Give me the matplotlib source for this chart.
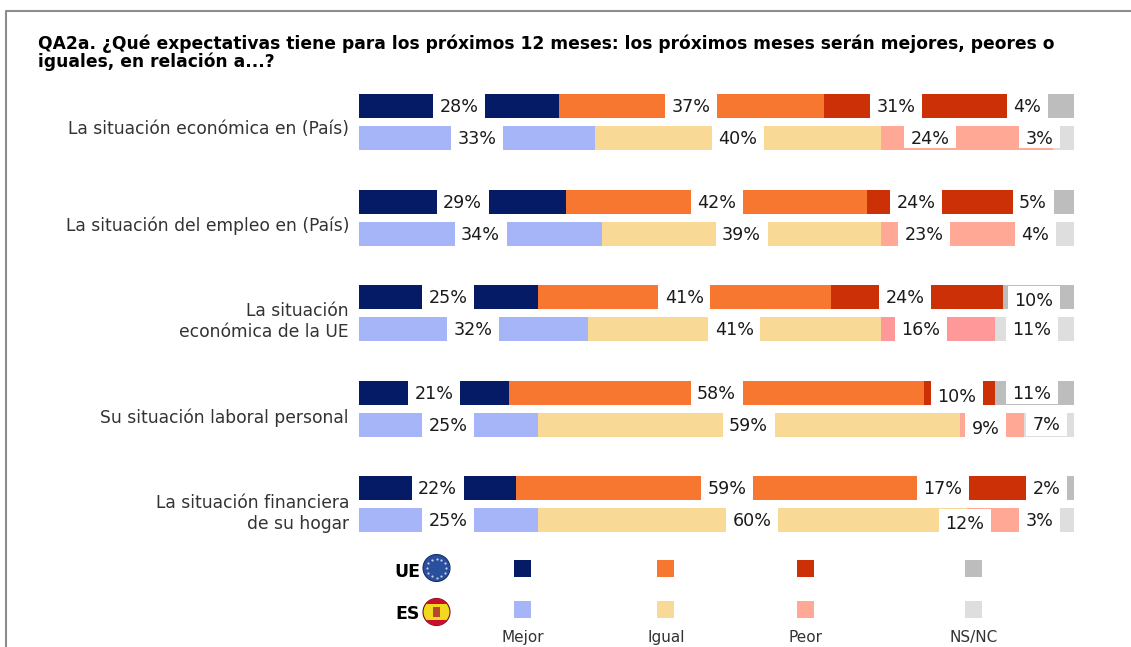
import numpy as np
import matplotlib
matplotlib.use('Agg')
import matplotlib.pyplot as plt
from matplotlib.patches import Rectangle, Circle

plt.rcParams['font.family'] = 'DejaVu Sans'

# data
temas = ['La situación económica en (País)', 'La situación del empleo en (País)',
         'La situación\neconómica de la UE', 'Su situación laboral personal',
         'La situación financiera\nde su hogar']
opciones = ['Mejor', 'Igual', 'Peor', 'NS/NC']
ue = [[28, 37, 31, 4],
      [29, 42, 24, 5],
      [25, 41, 24, 10],
      [21, 58, 10, 11],
      [22, 59, 17, 2]]
es = [[33, 40, 24, 3],
      [34, 39, 23, 4],
      [32, 41, 16, 11],
      [25, 59, 9, 7],
      [25, 60, 12, 3]]

col_ue = ['#061B66', '#F77730', '#CC3006', '#BDBDBD']
col_es = ['#A6B5F7', '#F8DA96', '#FFA896', '#DEDEDE']

W, H = 1131, 647
px_pct = 7.15  # pixels for 1%
pitch = 95.6

# label boxes get pushed left of the segment centre, in pixels
shift_ue = [[0, 0, -38.6, -32.7],
            [0, 0, -36.5, -23.1],
            [0, 0, -11.7, -4.3],
            [0, 0, -2.6, -2.7],
            [0, 0, -55.9, -20.4]]
shift_es = [[0, 0, -36.8, -23.3],
            [0, 0, -39.2, -24.2],
            [0, 0, -17.2, -2.7],
            [0, 0, -6.3, -2.5],
            [0, 0, -44.7, -23.3]]
# boxes and texts that sit off the bar centre, in pixels (down is positive)
caja_ue = {(2, 3): 1, (3, 3): -1}
caja_es = {(0, 2): -2, (0, 3): -2, (3, 3): -1, (4, 2): 1}
texto_ue = {(2, 3): 3, (3, 2): 3}
texto_es = {(3, 2): 3, (3, 3): -1, (4, 2): 3}

fig = plt.figure(figsize=(W / 100, H / 100), dpi=100)

# canvas in pixels for frame, title and legend
bg = fig.add_axes([0, 0, 1, 1])
bg.set_xlim(0, W)
bg.set_ylim(H, 0)
bg.axis('off')

top = 122 - pitch / 2
ax = fig.add_axes([359 / W, 1 - (top + 5 * pitch) / H, 715 / W, 5 * pitch / H])
ax.set_xlim(0, 100)
ax.set_ylim(4.5, -0.5)
ax.axis('off')

h = 24 / pitch
off = 16 / pitch


def fila(valores, colores, shifts, cajas, textos, sign):
    for i in range(len(temas)):
        y = i + sign * off
        left = 0
        for j in range(4):
            v = valores[i][j]
            c = colores[j]
            if sign > 0 and i == 2 and j == 2:
                c = '#FF9999'
            ax.barh(y, v, left=left, height=h, color=c, linewidth=0, zorder=2)
            left += v
        left = 0
        for j in range(4):
            v = valores[i][j]
            xc = left + v / 2 + shifts[i][j] / px_pct
            w = (52 if v >= 10 else 41) / px_pct
            ax.barh(y + cajas.get((i, j), 0) / pitch, w, left=xc - w / 2, height=h,
                    color='white', linewidth=0, zorder=3)
            ax.text(xc, y + (1 + textos.get((i, j), 0)) / pitch, '%d%%' % v, ha='center',
                    va='center', fontsize=12.6, color='#1a1a1a', zorder=4)
            left += v


fila(ue, col_ue, shift_ue, caja_ue, texto_ue, -1)
fila(es, col_es, shift_es, caja_es, texto_es, 1)

# frame and title
bg.plot([6, 6, W], [H, 11, 11], color='#8c8c8c', lw=1.5)
bg.text(38, 44, 'QA2a. ¿Qué expectativas tiene para los próximos 12 meses: los próximos meses serán mejores, peores o',
        fontsize=12.3, fontweight='bold', va='center', ha='left', color='black')
bg.text(38, 62, 'iguales, en relación a...?', fontsize=12.3, fontweight='bold',
        va='center', ha='left', color='black')

for i, t in enumerate(temas):
    bg.text(349, 129.5 + 96 * i, t, ha='right', va='center', fontsize=12.35,
            color='#333333', linespacing=1.25)

# legend
ley_x = [514, 657, 797, 965]
for j in range(4):
    bg.add_patch(Rectangle((ley_x[j], 560), 17, 17, color=col_ue[j], lw=0))
    bg.add_patch(Rectangle((ley_x[j], 601), 17, 17, color=col_es[j], lw=0))
    bg.text(ley_x[j] + 9, 642, opciones[j], ha='center', va='baseline', fontsize=11,
            color='#333333')

bg.text(420, 572, 'UE', ha='right', va='center', fontsize=12.5, fontweight='bold')
bg.text(420, 614, 'ES', ha='right', va='center', fontsize=12.5, fontweight='bold')

# EU badge
bg.add_patch(Circle((436.5, 568), 13.5, color='#2A4F9C', ec='#16306e', lw=0.8))
ang = np.deg2rad(np.arange(0, 360, 30))
bg.scatter(436.5 + 9.5 * np.cos(ang), 568 + 9.5 * np.sin(ang), s=2.5, color='#c9d3e8', lw=0)

# Spanish badge
clip = Circle((436.5, 612), 13.5, transform=bg.transData)
bg.add_patch(Circle((436.5, 612), 13.5, color='#F2D81E', ec='#7a0c18', lw=0.8))
for y0, y1, c in [(598, 604, '#C8102E'), (620, 626, '#C8102E')]:
    r = Rectangle((422, y0), 30, y1 - y0, color=c, lw=0)
    bg.add_patch(r)
    r.set_clip_path(clip)
bg.add_patch(Rectangle((433, 607), 7, 10, color='#B5472F', lw=0))

fig.savefig('out.png', dpi=100)
